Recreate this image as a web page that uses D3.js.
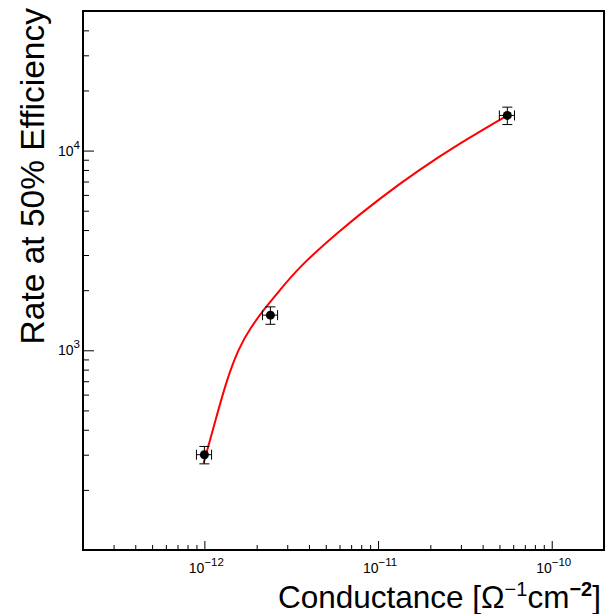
<!DOCTYPE html>
<html>
<head>
<meta charset="utf-8">
<script src="https://cdn.jsdelivr.net/npm/d3@7"></script>
<style>
  body { margin: 0; background: #fff; }
</style>
</head>
<body>
<script>
// measured points
let conductance = [1.0e-12, 2.4e-12, 5.55e-11];
let rate = [300, 1500, 15000];
let relErrX = [0.1, 0.1, 0.1];
let relErrY = [0.1, 0.1, 0.1];

// fitted curve (red)
let curveX = [0.99e-12, 1.16e-12, 1.345e-12, 1.58e-12, 1.85e-12, 2.2e-12, 2.69e-12,
              3.5e-12, 5.96e-12, 1.015e-11, 1.73e-11, 2.94e-11, 5.56e-11];
let curveY = [272, 448, 712, 1032, 1301, 1602, 1974,
              2608, 3957, 5733, 8025, 10845, 15000];

let xMajor = [-12, -11, -10];
let yMajor = [3, 4];

window.onload = function(){

let width = 606,
	height = 614;

let left = 83, right = 604, top = 11, bottom = 550;

let svg = d3.select("body")
			.append("svg")
			.attr("width", width)
			.attr("height", height)
			.attr("font-family", "'Liberation Sans', Arial, sans-serif");

let x = d3.scaleLog().domain([2e-13, 2e-10]).range([left, right]);
let y = d3.scaleLog().domain([100, 5e4]).range([bottom, top]);

// minor tick values inside the domain
function minors(scale){
	let d = scale.domain(), out = [];
	for (let e = Math.floor(Math.log10(d[0])); e <= Math.ceil(Math.log10(d[1])); e++) {
		for (let k = 2; k <= 9; k++) {
			let v = k * Math.pow(10, e);
			if (v > d[0] * 1.001 && v < d[1] * 0.999) out.push(v);
		}
	}
	return out;
}

// x ticks (pointing inward)
svg.append("g")
	.attr("transform", "translate(0," + bottom + ")")
	.call(d3.axisBottom(x).tickValues(minors(x)).tickSize(-5).tickFormat(""))
	.call(g => g.select(".domain").remove());
svg.append("g")
	.attr("transform", "translate(0," + bottom + ")")
	.call(d3.axisBottom(x).tickValues(xMajor.map(e => Math.pow(10, e))).tickSize(-9).tickFormat(""))
	.call(g => g.select(".domain").remove());

// y ticks
svg.append("g")
	.attr("transform", "translate(" + left + ",0)")
	.call(d3.axisLeft(y).tickValues(minors(y)).tickSize(-6).tickFormat(""))
	.call(g => g.select(".domain").remove());
svg.append("g")
	.attr("transform", "translate(" + left + ",0)")
	.call(d3.axisLeft(y).tickValues(yMajor.map(e => Math.pow(10, e))).tickSize(-11).tickFormat(""))
	.call(g => g.select(".domain").remove());

svg.selectAll(".tick line").attr("stroke", "#000").attr("stroke-width", 1);

// frame
svg.append("rect")
	.attr("x", left).attr("y", top)
	.attr("width", right - left).attr("height", bottom - top)
	.attr("fill", "none").attr("stroke", "#000").attr("stroke-width", 2);

// tick labels
let xl = svg.selectAll(".xlab")
	.data(xMajor)
	.enter().append("text")
	.attr("class", "xlab")
	.attr("x", d => x(Math.pow(10, d)) + 2)
	.attr("y", 573)
	.attr("text-anchor", "middle")
	.attr("font-size", 14);
xl.append("tspan").text("10");
xl.append("tspan").attr("dy", -7).attr("font-size", 11.5).text(d => "\u2212" + (-d));

let yl = svg.selectAll(".ylab")
	.data(yMajor)
	.enter().append("text")
	.attr("class", "ylab")
	.attr("x", 80)
	.attr("y", d => y(Math.pow(10, d)) + 5)
	.attr("text-anchor", "end")
	.attr("font-size", 14);
yl.append("tspan").text("10");
yl.append("tspan").attr("dy", -7).attr("font-size", 11.5).text(d => d);

// axis titles
let xt = svg.append("text")
	.attr("x", 601).attr("y", 608)
	.attr("text-anchor", "end")
	.attr("font-size", 31.5);
xt.append("tspan").text("Conductance [\u03A9");
xt.append("tspan").attr("dy", -12).attr("font-size", 20).text("\u22121");
xt.append("tspan").attr("dy", 12).text("cm");
xt.append("tspan").attr("dy", -12).attr("font-size", 20).attr("font-weight", "bold").text("\u22122");
xt.append("tspan").attr("dy", 12).text("]");

svg.append("text")
	.attr("transform", "translate(44,8) rotate(-90)")
	.attr("text-anchor", "end")
	.attr("font-size", 33.5)
	.text("Rate at 50% Efficiency");

// red curve
let line = d3.line()
	.x(d => x(d[0]))
	.y(d => y(d[1]))
	.curve(d3.curveBasis);

svg.append("path")
	.datum(d3.zip(curveX, curveY))
	.attr("d", line)
	.attr("fill", "none")
	.attr("stroke", "#ff0000")
	.attr("stroke-width", 2);

// points with error bars
let pts = d3.range(conductance.length).map(i => ({
	x: conductance[i], y: rate[i], ex: relErrX[i] * conductance[i], ey: relErrY[i] * rate[i]
}));

let node = svg.selectAll(".pt")
	.data(pts)
	.enter().append("g")
	.attr("class", "pt")
	.attr("stroke", "#000")
	.attr("stroke-width", 1);

node.append("line")
	.attr("x1", d => x(d.x - d.ex)).attr("x2", d => x(d.x + d.ex))
	.attr("y1", d => y(d.y)).attr("y2", d => y(d.y));
node.append("line")
	.attr("x1", d => x(d.x)).attr("x2", d => x(d.x))
	.attr("y1", d => y(d.y - d.ey)).attr("y2", d => y(d.y + d.ey));
// caps
node.append("line")
	.attr("x1", d => x(d.x - d.ex)).attr("x2", d => x(d.x - d.ex))
	.attr("y1", d => y(d.y) - 5).attr("y2", d => y(d.y) + 5);
node.append("line")
	.attr("x1", d => x(d.x + d.ex)).attr("x2", d => x(d.x + d.ex))
	.attr("y1", d => y(d.y) - 5).attr("y2", d => y(d.y) + 5);
node.append("line")
	.attr("x1", d => x(d.x) - 5).attr("x2", d => x(d.x) + 5)
	.attr("y1", d => y(d.y - d.ey)).attr("y2", d => y(d.y - d.ey));
node.append("line")
	.attr("x1", d => x(d.x) - 5).attr("x2", d => x(d.x) + 5)
	.attr("y1", d => y(d.y + d.ey)).attr("y2", d => y(d.y + d.ey));

node.append("circle")
	.attr("cx", d => x(d.x))
	.attr("cy", d => y(d.y))
	.attr("r", 4.5)
	.attr("fill", "#000")
	.attr("stroke", "none");

}
</script>
</body>
</html>
